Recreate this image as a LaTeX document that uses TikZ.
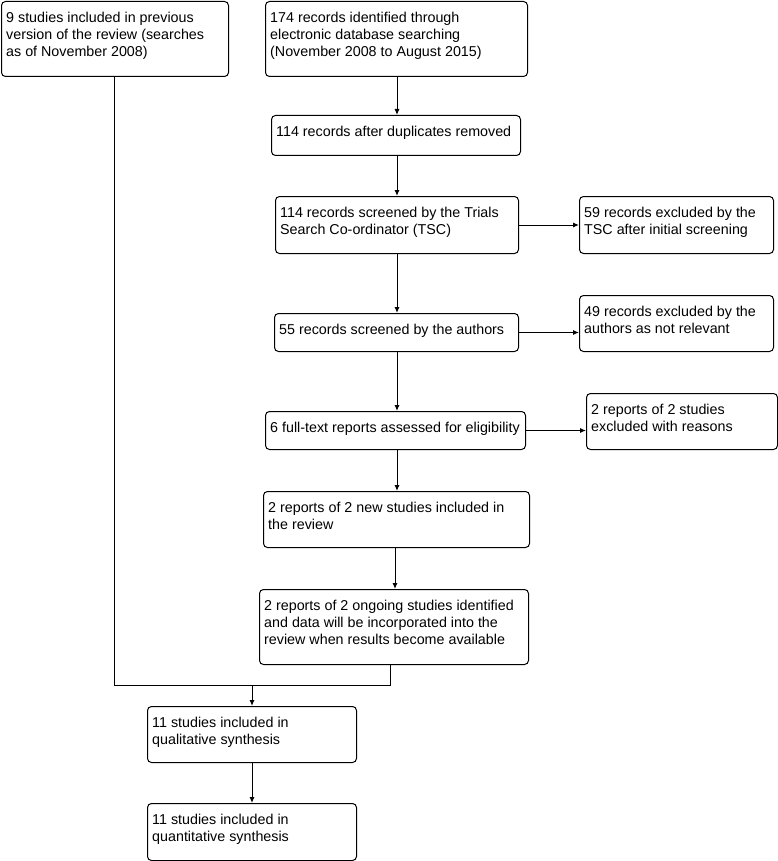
\documentclass[tikz,border=0pt]{standalone}
\usepackage{fontspec}
\setmainfont{Liberation Sans}
\usetikzlibrary{arrows.meta}
\tikzset{
  box/.style={draw, rounded corners=4pt, line width=1pt, anchor=north west, inner sep=0pt},
  txt/.style={anchor=north west, inner sep=0pt, align=left, font=\fontsize{14.3}{17}\selectfont},
  link/.style={line width=1pt},
  arr/.style={line width=1pt, -{Latex[length=6pt,width=5pt]}}
}
\newcommand{\flowbox}[6]{%
  \node[box, minimum width=#3pt, minimum height=#4pt] (#1) at (#2) {};
  \node[txt] (#1-t) at ([shift={(5pt,-9.5pt)}]#1.north west) {\strut #5};
}
\begin{document}
\begin{tikzpicture}[x=1pt,y=-1pt]
\useasboundingbox (0,0) rectangle (778,861);
\flowbox{a}{1,1}{227}{75}{9 studies included in previous\\version of the review (searches\\as of November 2008)}{}
\flowbox{b}{265,1}{262}{75}{174 records identified through\\electronic database searching\\(November 2008 to August 2015)}{}
\flowbox{c}{271,115}{249}{40}{114 records after duplicates removed}{}
\flowbox{d}{275,196}{243}{57}{114 records screened by the Trials\\Search Co-ordinator (TSC)}{}
\flowbox{e}{579,196}{194}{57}{59 records excluded by the\\TSC after initial screening}{}
\flowbox{f}{274,313}{244}{38}{55 records screened by the authors}{}
\flowbox{g}{579,295}{194}{56}{49 records excluded by the\\authors as not relevant}{}
\flowbox{h}{265,411}{260}{38}{6 full-text reports assessed for eligibility}{}
\flowbox{i}{586,393}{191}{56}{2 reports of 2 studies\\excluded with reasons}{}
\flowbox{j}{263,491}{266}{56}{2 reports of 2 new studies included in\\the review}{}
\flowbox{k}{259,589}{269}{75}{2 reports of 2 ongoing studies identified\\and data will be incorporated into the\\review when results become available}{}
\flowbox{l}{147,706}{209}{56}{11 studies included in\\qualitative synthesis}{}
\flowbox{m}{147,803}{209}{57}{11 studies included in\\quantitative synthesis}{}
% spine coordinates
\coordinate (sp) at (397,0);
\coordinate (sp2) at (395,0);
\coordinate (kx) at (390,0);
\coordinate (ax) at (114,0);
\coordinate (lx) at (252,0);
\coordinate (my) at (0,685);
\draw[arr] (b.south -| sp) -- (c.north -| sp);
\draw[arr] (c.south -| sp) -- (d.north -| sp);
\draw[arr] (d.south -| sp) -- (f.north -| sp);
\draw[arr] (f.south -| sp) -- (h.north -| sp);
\draw[arr] (h.south -| sp) -- (j.north -| sp);
\draw[arr] (j.south -| sp2) -- (k.north -| sp2);
\draw[arr] (d.east) -- (e.west |- d.east);
\draw[arr] (f.east) -- (g.west |- f.east);
\draw[arr] (h.east) -- (i.west |- h.east);
\coordinate (ma) at (ax |- my);
\coordinate (mk) at (kx |- my);
\coordinate (ml) at (lx |- my);
\draw[link] (a.south -| ax) -- (ma) -- (mk) -- (k.south -| kx);
\draw[arr] (ml) -- (l.north -| lx);
\draw[arr] (l.south -| lx) -- (m.north -| lx);
\end{tikzpicture}
\end{document}
